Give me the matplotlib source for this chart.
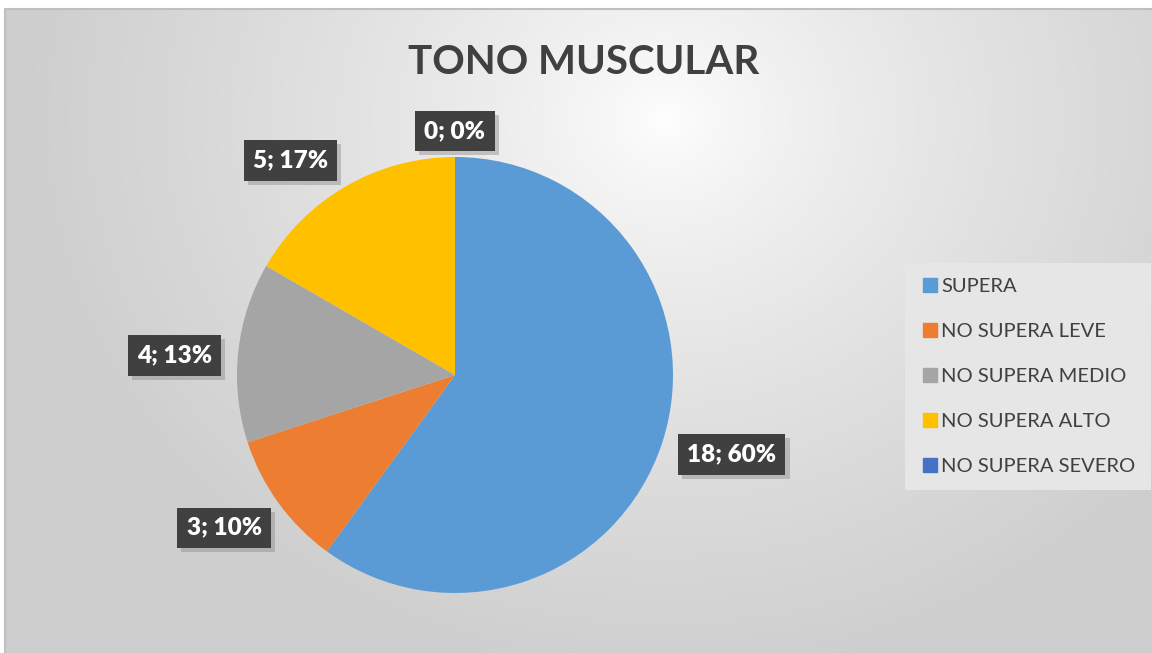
import numpy as np
import matplotlib
matplotlib.use("Agg")
import matplotlib.pyplot as plt
import matplotlib.patheffects as pe
from matplotlib.lines import Line2D

# Datos
categorias = ["SUPERA", "NO SUPERA LEVE", "NO SUPERA MEDIO", "NO SUPERA ALTO", "NO SUPERA SEVERO"]
valores = [18, 3, 4, 5, 0]
colores = ["#5B9BD5", "#ED7D31", "#A5A5A5", "#FFC000", "#4472C4"]
titulo = "TONO MUSCULAR"

# posicion de cada etiqueta: distancia (en radios) y giro respecto al centro de la porcion
dist_etiqueta = [1.32, 1.27, 1.29, 1.24, 1.12]
giro_etiqueta = [2.0, -2.5, 2.0, 7.5, 0.0]

plt.rcParams['font.family'] = ['Lato', 'DejaVu Sans']

W, H = 1152, 653
fig = plt.figure(figsize=(W / 100, H / 100), dpi=100)
fig.patch.set_facecolor("white")

# Fondo con degradado
bg = fig.add_axes([5 / W, 0, 1 - 5 / W, 1 - 9 / H])
bg.set_axis_off()
yy, xx = np.mgrid[0:H - 9, 0:W - 5]
r = np.sqrt(((xx - 660) / 640.0) ** 2 + ((yy - 110) / 560.0) ** 2)
r = np.clip(r, 0, 1)
tono = 1.0 - 0.19 * r ** 0.75
img = np.dstack([tono, tono, tono])
bg.imshow(img, aspect="auto", extent=(0, 1, 0, 1), origin="upper")
bg.set_xlim(0, 1)
bg.set_ylim(0, 1)
bg.plot([0, 0, 1], [0, 1, 1], transform=bg.transAxes, color="#BFBFBF", lw=1.5, clip_on=False)

# Titulo
fig.text(584 / W, 1 - 63 / H, titulo, ha="center", va="center",
         fontsize=29, fontweight="bold", color="#404040")

# Pastel
cx, cy, R = 455, 375, 218
ax = fig.add_axes([(cx - R) / W, (H - cy - R) / H, 2 * R / W, 2 * R / H])
ax.set_axis_off()
wedges, _ = ax.pie(valores, colors=colores, startangle=90, counterclock=False,
                   radius=1, wedgeprops=dict(linewidth=0))
ax.set_xlim(-1, 1)
ax.set_ylim(-1, 1)
ax.set_aspect("equal")

total = sum(valores)
inicio = 90.0
for i, v in enumerate(valores):
    ang = 360.0 * v / total
    medio = np.deg2rad(inicio - ang / 2 + giro_etiqueta[i])
    inicio -= ang
    d = dist_etiqueta[i]
    t = ax.text(d * np.cos(medio), d * np.sin(medio),
                "%d; %d%%" % (v, round(100.0 * v / total)),
                ha="center", va="center", fontsize=17.5, fontweight="heavy",
                color="white", clip_on=False,
                bbox=dict(boxstyle="square,pad=0.38", fc="#404040", ec="none"))
    t.get_bbox_patch().set_path_effects([
        pe.SimplePatchShadow(offset=(3, -3), shadow_rgbFace="#8C8C8C", alpha=0.45),
        pe.Normal()])

# Leyenda
handles = [Line2D([], [], marker="s", linestyle="none", markersize=10,
                  markerfacecolor=c, markeredgecolor=c) for c in colores]
leg = fig.legend(handles, categorias, loc="upper left",
                 bbox_to_anchor=(905 / W, 1 - 263 / H), borderaxespad=0,
                 frameon=True, fontsize=14.5, labelspacing=1.38,
                 handletextpad=0.05, handlelength=1.0, borderpad=0.75,
                 fancybox=False, labelcolor="#404040")
leg.get_frame().set_facecolor("#E6E6E6")
leg.get_frame().set_edgecolor("none")
leg.get_frame().set_alpha(1)

fig.savefig("out.png", dpi=100)
